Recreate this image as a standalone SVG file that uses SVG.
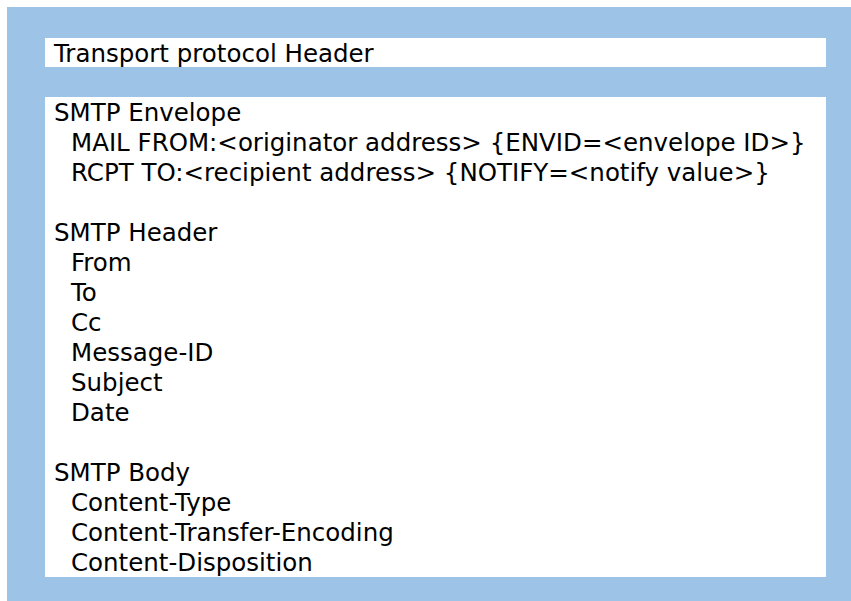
<svg xmlns="http://www.w3.org/2000/svg" width="851" height="601" viewBox="0 0 851 601">
<style>
.bg{fill:#9dc3e6}
.box{fill:#ffffff}
text{font-family:"DejaVu Sans",Verdana,sans-serif;font-size:24.5px;fill:#000000}
</style>
<rect x="0" y="0" width="851" height="601" fill="#ffffff"/>
<rect class="bg" x="7" y="7" width="844" height="594"/>
<g id="transport-header">
<rect class="box" x="45" y="38" width="781" height="29"/>
<text x="54" y="62">Transport protocol Header</text>
</g>
<g id="smtp-message">
<rect class="box" x="45" y="97" width="781" height="480"/>
<g id="smtp-envelope">
<text x="54" y="121">SMTP Envelope</text>
<text x="71" y="151">MAIL FROM:&lt;originator address&gt; {ENVID=&lt;envelope ID&gt;}</text>
<text x="71" y="181">RCPT TO:&lt;recipient address&gt; {NOTIFY=&lt;notify value&gt;}</text>
</g>
<g id="smtp-header">
<text x="54" y="241">SMTP Header</text>
<text x="71" y="271">From</text>
<text x="71" y="301">To</text>
<text x="71" y="331">Cc</text>
<text x="71" y="361">Message-ID</text>
<text x="71" y="391">Subject</text>
<text x="71" y="421">Date</text>
</g>
<g id="smtp-body">
<text x="54" y="481">SMTP Body</text>
<text x="71" y="511">Content-Type</text>
<text x="71" y="541">Content-Transfer-Encoding</text>
<text x="71" y="571">Content-Disposition</text>
</g>
</g>
<g id="connectors"></g>
</svg>
